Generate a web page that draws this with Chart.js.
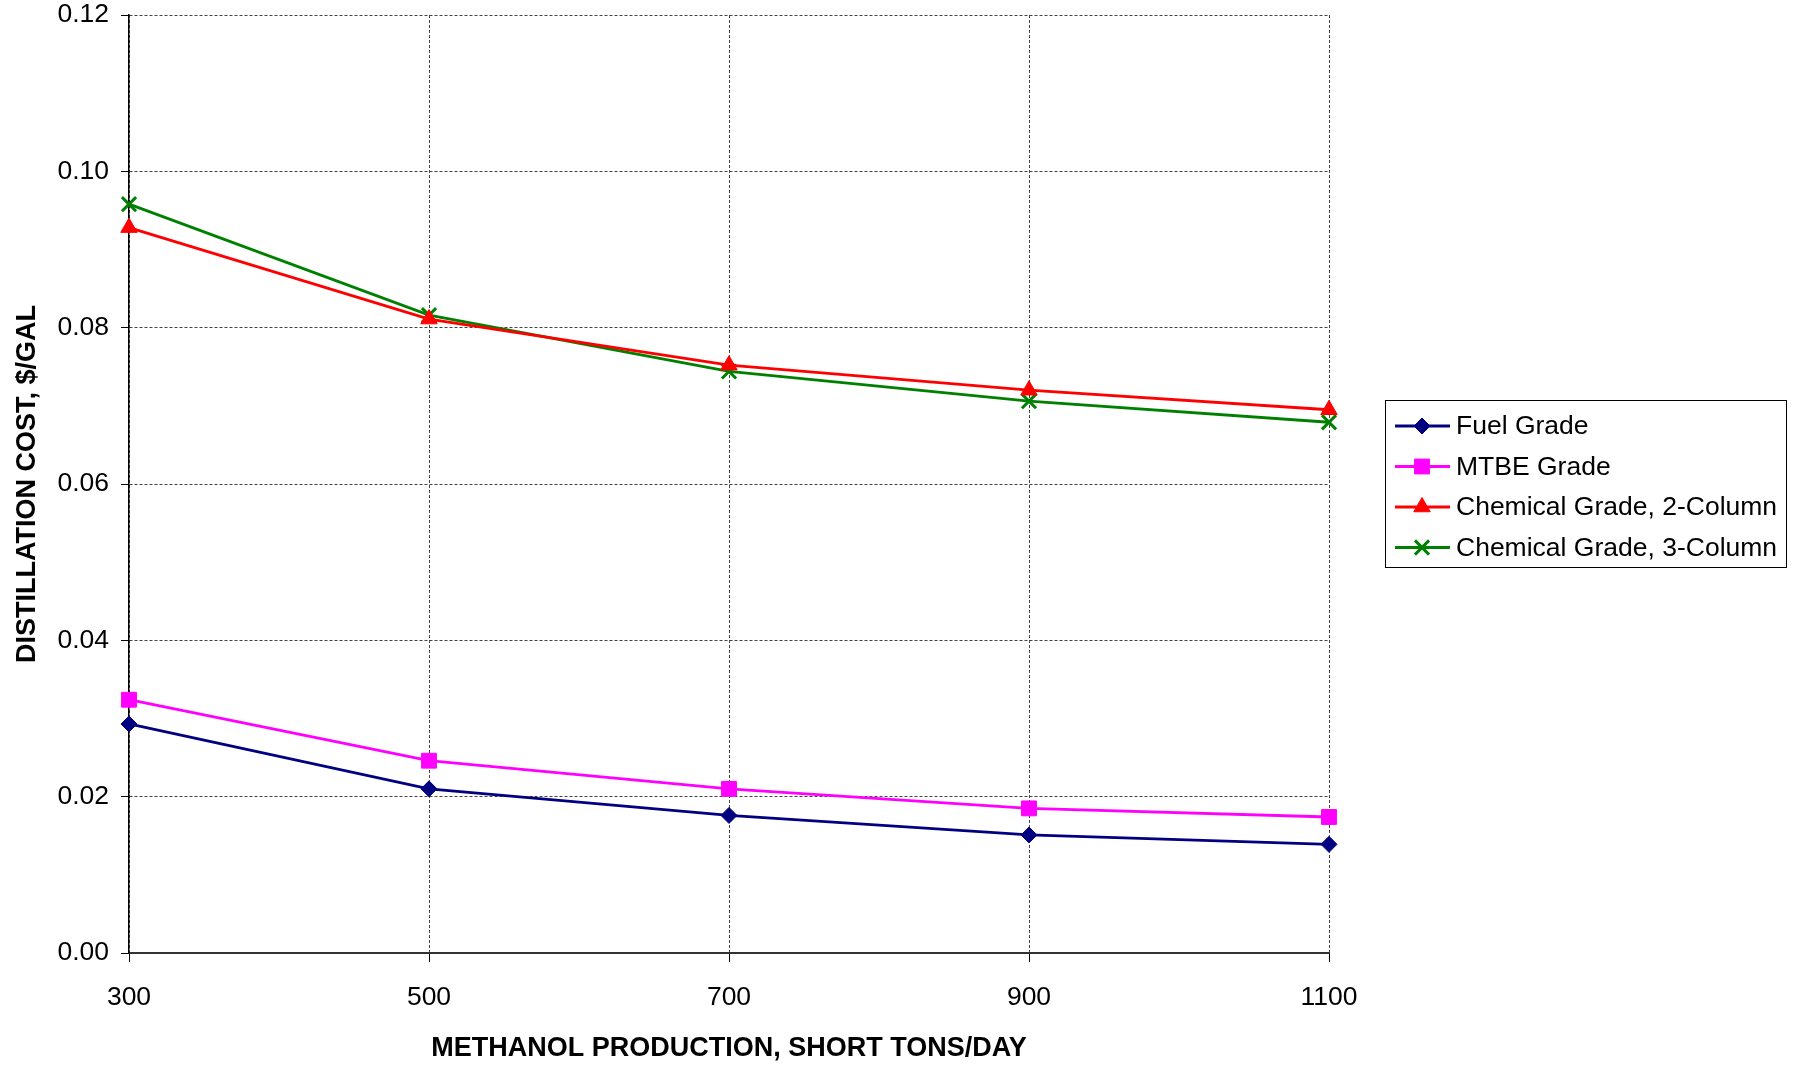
<!DOCTYPE html>
<html>
<head>
<meta charset="utf-8">
<script src="https://cdn.jsdelivr.net/npm/chart.js@4/dist/chart.umd.min.js"></script>
<style>
  html, body { margin: 0; padding: 0; background: #fff; }
  #wrap { width: 1800px; height: 1068px; position: relative; }
</style>
</head>
<body>
<div id="wrap"><canvas id="chart"></canvas></div>
<script>
// values
const production = [300, 500, 700, 900, 1100];
const fuelGrade = [0.0293, 0.0210, 0.0176, 0.0151, 0.0139];
const mtbeGrade = [0.0324, 0.0246, 0.0210, 0.0185, 0.0174];
const chem2Column = [0.0928, 0.0811, 0.0752, 0.0720, 0.0695];
const chem3Column = [0.0958, 0.0816, 0.0744, 0.0706, 0.0679];
const seriesNames = ['Fuel Grade', 'MTBE Grade', 'Chemical Grade, 2-Column', 'Chemical Grade, 3-Column'];

const FONT = "'Liberation Sans', Arial, sans-serif";

const toPoints = vals => vals.map((v, i) => ({ x: production[i], y: v }));

const series = [
  { values: fuelGrade, color: '#000080', style: 'rectRot', radius: 8 },
  { values: mtbeGrade, color: '#FF00FF', style: 'rect', radius: 10.5 },
  { values: chem2Column, color: '#FF0000', style: 'triangle', radius: 9.5 },
  { values: chem3Column, color: '#008000', style: 'crossRot', radius: 10 }
];

const datasets = series.map((s, i) => ({
  label: seriesNames[i],
  data: toPoints(s.values),
  borderColor: s.color,
  backgroundColor: s.color,
  borderWidth: 2.8,
  pointStyle: s.style,
  pointRadius: s.radius,
  pointHoverRadius: s.radius,
  pointBorderWidth: s.style === 'crossRot' ? 3 : 1,
  pointBorderColor: s.color,
  pointBackgroundColor: s.color,
  clip: false,
  tension: 0
}));

// legend box on the right, line + marker like the original
const boxLegend = {
  id: 'boxLegend',
  afterDraw(chart) {
    const ctx = chart.ctx;
    const x0 = 1385, y0 = 400, w = 401, h = 167;
    ctx.save();
    ctx.strokeStyle = '#000';
    ctx.lineWidth = 1;
    ctx.strokeRect(x0 + 0.5, y0 + 0.5, w, h);
    ctx.font = '26.5px ' + FONT;
    ctx.textBaseline = 'middle';
    ctx.fillStyle = '#000';
    chart.data.datasets.forEach((ds, i) => {
      const y = 426 + i * 40.5;
      ctx.strokeStyle = ds.borderColor;
      ctx.lineWidth = 2.8;
      ctx.beginPath();
      ctx.moveTo(1395, y);
      ctx.lineTo(1450, y);
      ctx.stroke();
      ctx.fillStyle = ds.borderColor;
      ctx.lineWidth = ds.pointBorderWidth;
      Chart.helpers.drawPoint(ctx, {
        pointStyle: ds.pointStyle,
        radius: ds.pointRadius,
        rotation: 0,
        borderWidth: ds.pointBorderWidth
      }, 1422, y);
      ctx.fillStyle = '#000';
      ctx.fillText(ds.label, 1456, y + 1);
    });
    ctx.restore();
  }
};

new Chart(document.getElementById('chart'), {
  type: 'line',
  data: { datasets },
  plugins: [boxLegend],
  options: {
    responsive: true,
    maintainAspectRatio: false,
    animation: false,
    layout: { padding: { top: 15, right: 471, bottom: 0, left: 0 } },
    plugins: {
      legend: { display: false },
      tooltip: { enabled: false }
    },
    scales: {
      x: {
        type: 'linear',
        min: 300,
        max: 1100,
        ticks: {
          stepSize: 200,
          color: '#000',
          font: { family: FONT, size: 26.5 },
          padding: 20,
          maxRotation: 0,
          callback: v => String(v)
        },
        grid: {
          color: '#444',
          lineWidth: 1,
          tickLength: 9,
          tickColor: '#000',
          tickBorderDash: []
        },
        border: { color: '#333', width: 2, dash: [3, 2] },
        title: {
          display: true,
          text: 'METHANOL PRODUCTION, SHORT TONS/DAY',
          color: '#000',
          font: { family: FONT, size: 27, weight: 'bold' },
          padding: { top: 0, bottom: 3 }
        },
        afterFit(scale) {
          scale.height = 115;
          scale.paddingLeft = 0;
          scale.paddingRight = 0;
        }
      },
      y: {
        min: 0,
        max: 0.12,
        ticks: {
          stepSize: 0.02,
          color: '#000',
          font: { family: FONT, size: 26.5 },
          padding: 12,
          callback: v => v.toFixed(2)
        },
        grid: {
          color: '#444',
          lineWidth: 1,
          tickLength: 8,
          tickColor: '#000',
          tickBorderDash: []
        },
        border: { color: '#000', width: 1.5, dash: [3, 2] },
        title: {
          display: true,
          text: 'DISTILLATION COST, $/GAL',
          color: '#000',
          font: { family: FONT, size: 27, weight: 'bold' },
          padding: { top: 11, bottom: 0 }
        },
        afterFit(scale) {
          scale.width = 129;
          scale.paddingTop = 0;
          scale.paddingBottom = 0;
        }
      }
    }
  }
});
</script>
</body>
</html>
